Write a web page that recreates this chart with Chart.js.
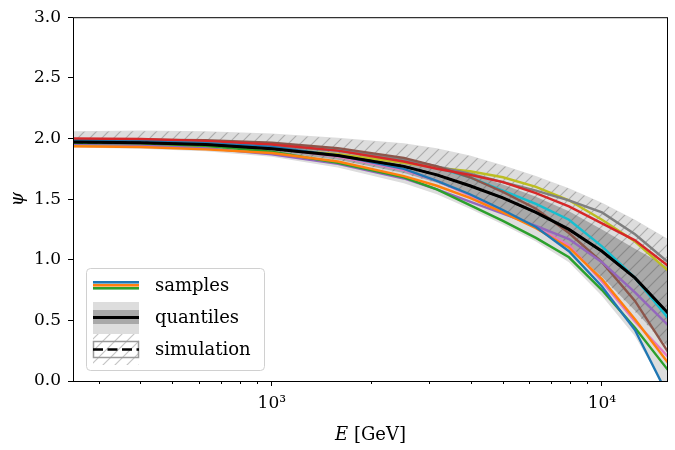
<!DOCTYPE html>
<html>
<head>
<meta charset="utf-8">
<script src="https://cdn.jsdelivr.net/npm/chart.js@4.4.0/dist/chart.umd.min.js"></script>
<style>
  html, body { margin: 0; padding: 0; background: #fff; }
  #wrap { width: 675px; height: 450px; }
</style>
</head>
<body>
<div id="wrap"><canvas id="chart" width="675" height="450"></canvas></div>
<script>
// --- Data ---

const energies = [250, 400, 630, 1000, 1585, 2512, 3162, 3981, 5012, 6310, 7943, 10000, 12589, 15849];

// posterior samples (tab10 order)
const sampleBlue   = [1.98, 1.975, 1.96, 1.93, 1.86, 1.75, 1.65, 1.54, 1.41, 1.27, 1.07, 0.78, 0.42, -0.12];
const sampleOrange = [1.935, 1.93, 1.91, 1.88, 1.81, 1.69, 1.61, 1.51, 1.39, 1.26, 1.10, 0.84, 0.51, 0.15];
const sampleGreen  = [1.965, 1.96, 1.94, 1.89, 1.80, 1.68, 1.58, 1.45, 1.32, 1.18, 1.02, 0.75, 0.44, 0.09];
const sampleRed    = [2.0, 1.995, 1.98, 1.95, 1.90, 1.81, 1.75, 1.70, 1.64, 1.55, 1.44, 1.30, 1.16, 0.95];
const samplePurple = [1.955, 1.945, 1.92, 1.87, 1.79, 1.67, 1.58, 1.48, 1.38, 1.28, 1.17, 0.98, 0.73, 0.46];
const sampleBrown  = [1.985, 1.99, 1.985, 1.965, 1.92, 1.84, 1.77, 1.68, 1.56, 1.42, 1.22, 0.98, 0.66, 0.24];
const samplePink   = [1.97, 1.965, 1.95, 1.92, 1.85, 1.74, 1.65, 1.53, 1.40, 1.27, 1.12, 0.82, 0.49, 0.20];
const sampleGray   = [1.975, 1.97, 1.96, 1.94, 1.90, 1.83, 1.77, 1.71, 1.64, 1.57, 1.49, 1.39, 1.21, 0.98];
const sampleOlive  = [1.945, 1.945, 1.935, 1.915, 1.87, 1.80, 1.76, 1.73, 1.68, 1.60, 1.49, 1.33, 1.15, 0.91];
const sampleCyan   = [1.99, 1.99, 1.98, 1.955, 1.91, 1.82, 1.76, 1.68, 1.57, 1.46, 1.33, 1.11, 0.85, 0.52];

const sampleSeries = [sampleBlue, sampleOrange, sampleGreen, sampleRed, samplePurple,
                      sampleBrown, samplePink, sampleGray, sampleOlive, sampleCyan];
const sampleColors = ['#1f77b4', '#ff7f0e', '#2ca02c', '#d62728', '#9467bd',
                      '#8c564b', '#e377c2', '#7f7f7f', '#bcbd22', '#17becf'];

// quantiles
const q05 = [1.925, 1.915, 1.895, 1.85, 1.76, 1.63, 1.54, 1.42, 1.29, 1.15, 0.98, 0.70, 0.37, -0.1];
const q25 = [1.955, 1.95, 1.93, 1.89, 1.825, 1.715, 1.635, 1.535, 1.415, 1.275, 1.10, 0.86, 0.58, 0.28];
const q50 = [1.97, 1.965, 1.95, 1.915, 1.86, 1.77, 1.70, 1.61, 1.51, 1.39, 1.25, 1.07, 0.85, 0.56];
const q75 = [1.99, 1.985, 1.975, 1.95, 1.905, 1.83, 1.775, 1.71, 1.62, 1.52, 1.40, 1.25, 1.09, 0.94];
const q95 = [2.06, 2.065, 2.06, 2.04, 2.005, 1.96, 1.92, 1.86, 1.78, 1.69, 1.59, 1.47, 1.33, 1.17];

// simulation band
const simUpper  = [2.055, 2.06, 2.055, 2.035, 2.0, 1.955, 1.915, 1.855, 1.775, 1.685, 1.585, 1.465, 1.325, 1.165];
const simLower  = [1.95, 1.945, 1.925, 1.885, 1.82, 1.71, 1.63, 1.53, 1.41, 1.27, 1.09, 0.85, 0.57, 0.27];
const simMedian = [1.97, 1.965, 1.95, 1.915, 1.86, 1.77, 1.70, 1.61, 1.51, 1.39, 1.25, 1.07, 0.85, 0.56];

// axes
const xMin = 250, xMax = 15849;
const xMajorTicks = [1000, 10000];
const xTickLabels = ['10³', '10⁴'];
const xMinorTicks = [300, 400, 500, 600, 700, 800, 900, 2000, 3000, 4000, 5000, 6000, 7000, 8000, 9000];
const yTicks = [0, 0.5, 1.0, 1.5, 2.0, 2.5, 3.0];
const legendLabels = ['samples', 'quantiles', 'simulation'];

const FONT = "'DejaVu Serif', 'Liberation Serif', serif";

// --- Helpers ---

const pts = (arr) => arr.map((v, i) => ({ x: energies[i], y: v }));

function makeHatch() {
    const c = document.createElement('canvas');
    c.width = 12; c.height = 12;
    const g = c.getContext('2d');
    g.strokeStyle = 'rgba(70,70,70,0.32)';
    g.lineWidth = 1.2;
    g.beginPath();
    g.moveTo(-1, 13); g.lineTo(13, -1);
    g.moveTo(-7, 7); g.lineTo(7, -7);
    g.moveTo(5, 19); g.lineTo(19, 5);
    g.stroke();
    return g.createPattern(c, 'repeat');
}
const hatch = makeHatch();

function band(data, fillTarget, color, order) {
    return {
        data: pts(data),
        borderWidth: 0,
        borderColor: 'transparent',
        backgroundColor: color,
        pointRadius: 0,
        fill: fillTarget === null ? false : { target: fillTarget },
        order: order
    };
}

// --- Datasets ---

const datasets = [
    band(q95, 1, '#dddddd', 10),
    band(q05, null, 'transparent', 10),
    band(q75, 3, '#a9a9a9', 9),
    band(q25, null, 'transparent', 9),
    band(simUpper, 5, hatch, 8),
    band(simLower, null, 'transparent', 8)
];

sampleSeries.forEach((s, i) => {
    datasets.push({
        data: pts(s),
        borderColor: sampleColors[i],
        borderWidth: 2.4,
        pointRadius: 0,
        fill: false,
        order: 2
    });
});

datasets.push({
    data: pts(simMedian),
    borderColor: '#000',
    borderWidth: 2,
    borderDash: [10, 4.5],
    pointRadius: 0,
    fill: false,
    order: 1
});

datasets.push({
    data: pts(q50),
    borderColor: '#000',
    borderWidth: 3,
    pointRadius: 0,
    fill: false,
    order: 0
});

// --- Plugins: frame, minor ticks, axis titles, legend ---

const framePlugin = {
    id: 'frame',
    afterDatasetsDraw(chart) {
        const { ctx, chartArea: a } = chart;
        ctx.save();
        ctx.strokeStyle = '#000';
        ctx.lineWidth = 1;
        ctx.strokeRect(a.left + 0.5, a.top + 0.5, a.right - a.left - 1, a.bottom - a.top);
        // minor x ticks
        const xs = chart.scales.x;
        ctx.beginPath();
        xMinorTicks.forEach(v => {
            const px = Math.round(xs.getPixelForValue(v)) + 0.5;
            ctx.moveTo(px, a.bottom);
            ctx.lineTo(px, a.bottom + 3);
        });
        ctx.stroke();
        ctx.restore();
    }
};

const titlePlugin = {
    id: 'titles',
    afterDraw(chart) {
        const { ctx, chartArea: a } = chart;
        ctx.save();
        ctx.fillStyle = '#000';
        ctx.textBaseline = 'middle';
        // x title: italic E + [GeV]
        const italic = `italic 18px ${FONT}`;
        const normal = `18px ${FONT}`;
        ctx.font = italic;
        const wE = ctx.measureText('E').width;
        ctx.font = normal;
        const wRest = ctx.measureText(' [GeV]').width;
        const cx = (a.left + a.right) / 2;
        let x0 = cx - (wE + wRest) / 2;
        ctx.font = italic;
        ctx.textAlign = 'left';
        ctx.fillText('E', x0, 435);
        ctx.font = normal;
        ctx.fillText(' [GeV]', x0 + wE, 435);
        // y title
        ctx.translate(18, (a.top + a.bottom) / 2);
        ctx.rotate(-Math.PI / 2);
        ctx.font = italic;
        ctx.textAlign = 'center';
        ctx.fillText('ψ', 0, 0);
        ctx.restore();
    }
};

const legendPlugin = {
    id: 'customLegend',
    afterDatasetsDraw(chart) {
        const { ctx, chartArea: a } = chart;
        const bx = a.left + 13, by = a.bottom - 113, bw = 178, bh = 102;
        ctx.save();
        // box
        ctx.beginPath();
        ctx.roundRect(bx + 0.5, by + 0.5, bw, bh, 4);
        ctx.fillStyle = 'rgba(255,255,255,0.85)';
        ctx.fill();
        ctx.strokeStyle = '#d0d0d0';
        ctx.lineWidth = 1;
        ctx.stroke();

        const ix = bx + 7, iw = 46;

        // samples: three stripes
        [0, 1, 2].forEach(k => {
            ctx.fillStyle = sampleColors[k];
            ctx.fillRect(ix, by + 13 + k * 3, iw, 2.6);
        });

        // quantiles
        ctx.fillStyle = '#dddddd';
        ctx.fillRect(ix, by + 34, iw, 32);
        ctx.fillStyle = '#a9a9a9';
        ctx.fillRect(ix, by + 42, iw, 14);
        ctx.strokeStyle = '#000';
        ctx.lineWidth = 3;
        ctx.beginPath();
        ctx.moveTo(ix, by + 49.5); ctx.lineTo(ix + iw, by + 49.5);
        ctx.stroke();

        // simulation
        ctx.fillStyle = hatch;
        ctx.fillRect(ix, by + 66, iw, 31);
        ctx.strokeStyle = '#9a9a9a';
        ctx.lineWidth = 1.5;
        ctx.strokeRect(ix + 0.5, by + 73.5, iw - 1, 16);
        ctx.strokeStyle = '#000';
        ctx.lineWidth = 2.5;
        ctx.setLineDash([10, 4.5]);
        ctx.beginPath();
        ctx.moveTo(ix, by + 81.5); ctx.lineTo(ix + iw, by + 81.5);
        ctx.stroke();
        ctx.setLineDash([]);

        // labels
        ctx.fillStyle = '#000';
        ctx.font = `18px ${FONT}`;
        ctx.textAlign = 'left';
        ctx.textBaseline = 'middle';
        const tx = bx + 69;
        ctx.fillText(legendLabels[0], tx, by + 18);
        ctx.fillText(legendLabels[1], tx, by + 50);
        ctx.fillText(legendLabels[2], tx, by + 82);
        ctx.restore();
    }
};

// --- Chart ---

const ctx = document.getElementById('chart').getContext('2d');
new Chart(ctx, {
    type: 'line',
    data: { datasets: datasets },
    options: {
        responsive: false,
        animation: false,
        devicePixelRatio: 1,
        layout: { padding: { top: 13, right: 7, left: 0, bottom: 0 } },
        plugins: {
            legend: { display: false },
            tooltip: { enabled: false }
        },
        elements: { line: { tension: 0 } },
        scales: {
            x: {
                type: 'logarithmic',
                min: xMin,
                max: xMax,
                afterBuildTicks: (scale) => {
                    scale.ticks = xMajorTicks.map(v => ({ value: v, major: true }));
                },
                afterFit: (scale) => { scale.height = 69; },
                ticks: {
                    autoSkip: false,
                    maxRotation: 0,
                    color: '#000',
                    padding: 7,
                    font: { family: FONT, size: 17 },
                    callback: (v) => {
                        const i = xMajorTicks.indexOf(v);
                        return i >= 0 ? xTickLabels[i] : '';
                    }
                },
                grid: {
                    drawOnChartArea: false,
                    drawTicks: true,
                    tickLength: 5,
                    tickColor: '#000',
                    tickWidth: 1
                },
                border: { display: false }
            },
            y: {
                min: 0,
                max: 3,
                afterBuildTicks: (scale) => {
                    scale.ticks = yTicks.map(v => ({ value: v }));
                },
                afterFit: (scale) => { scale.width = 73; },
                ticks: {
                    color: '#000',
                    padding: 7,
                    font: { family: FONT, size: 17 },
                    callback: (v) => v.toFixed(1)
                },
                grid: {
                    drawOnChartArea: false,
                    drawTicks: true,
                    tickLength: 5,
                    tickColor: '#000',
                    tickWidth: 1
                },
                border: { display: false }
            }
        }
    },
    plugins: [framePlugin, legendPlugin, titlePlugin]
});
</script>
</body>
</html>
